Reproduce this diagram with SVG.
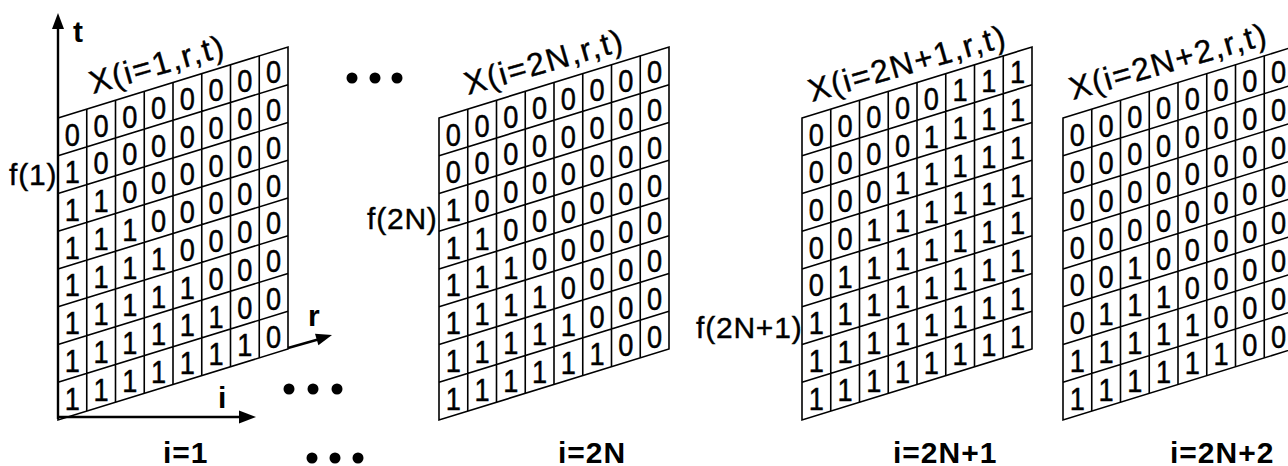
<svg xmlns="http://www.w3.org/2000/svg" xmlns:xlink="http://www.w3.org/1999/xlink" width="1288" height="466" viewBox="0 0 1288 466">
<style>
.gl{fill:none;stroke:#000;stroke-width:1.6;vector-effect:non-scaling-stroke}
.d{font-family:"Liberation Sans",Arial,sans-serif;font-size:32px;fill:#000;stroke:#000;stroke-width:0.5;text-anchor:middle}
.lab{font-family:"Liberation Sans",Arial,sans-serif;font-size:32px;fill:#000;stroke:#000;stroke-width:0.4;letter-spacing:1.8px}
.f{font-family:"Liberation Sans",Arial,sans-serif;font-size:30px;fill:#000;stroke:#000;stroke-width:0.4;letter-spacing:0.8px}
.b{font-family:"Liberation Sans",Arial,sans-serif;font-size:30px;font-weight:bold;fill:#000;letter-spacing:1px}
.ax{font-family:"Liberation Sans",Arial,sans-serif;font-size:30px;font-weight:bold;fill:#000}
.axis{stroke:#000;stroke-width:2.4;fill:none}
.ah{fill:#000;stroke:none}
</style>
<defs>
<g id="gridlines">
<rect class="gl" x="0" y="0" width="230" height="302"/>
<path class="gl" d="M28.75 0V302M57.5 0V302M86.25 0V302M115 0V302M143.75 0V302M172.5 0V302M201.25 0V302M0 37.75H230M0 75.5H230M0 113.25H230M0 151H230M0 188.75H230M0 226.5H230M0 264.25H230"/>
</g>
</defs>
<rect width="1288" height="466" fill="#fff"/>

<g id="grid1">
<use xlink:href="#gridlines" href="#gridlines" transform="translate(58,118) skewY(-17.16)"/>
<g transform="translate(58,118) scale(0.85,1)">
<text class="d" x="16.9 50.7 84.6 118.4 152.2 186 219.9 253.6" y="27.5" dy="0 -8.875 -8.875 -8.875 -8.875 -8.875 -8.875 -8.875">00000000</text>
<text class="d" x="16.9 50.7 84.6 118.4 152.2 186 219.9 253.6" y="65.25" dy="0 -8.875 -8.875 -8.875 -8.875 -8.875 -8.875 -8.875">10000000</text>
<text class="d" x="16.9 50.7 84.6 118.4 152.2 186 219.9 253.6" y="103" dy="0 -8.875 -8.875 -8.875 -8.875 -8.875 -8.875 -8.875">11000000</text>
<text class="d" x="16.9 50.7 84.6 118.4 152.2 186 219.9 253.6" y="140.75" dy="0 -8.875 -8.875 -8.875 -8.875 -8.875 -8.875 -8.875">11100000</text>
<text class="d" x="16.9 50.7 84.6 118.4 152.2 186 219.9 253.6" y="178.5" dy="0 -8.875 -8.875 -8.875 -8.875 -8.875 -8.875 -8.875">11110000</text>
<text class="d" x="16.9 50.7 84.6 118.4 152.2 186 219.9 253.6" y="216.25" dy="0 -8.875 -8.875 -8.875 -8.875 -8.875 -8.875 -8.875">11111000</text>
<text class="d" x="16.9 50.7 84.6 118.4 152.2 186 219.9 253.6" y="254" dy="0 -8.875 -8.875 -8.875 -8.875 -8.875 -8.875 -8.875">11111100</text>
<text class="d" x="16.9 50.7 84.6 118.4 152.2 186 219.9 253.6" y="291.75" dy="0 -8.875 -8.875 -8.875 -8.875 -8.875 -8.875 -8.875">11111110</text>
</g>
<text class="lab" x="93" y="94" transform="rotate(-16 93 94)">X(i=1,r,t)</text>
<text class="f" x="9" y="185">f(1)</text>
<text class="b" x="163" y="463">i=1</text>
</g>

<g id="grid2">
<use xlink:href="#gridlines" href="#gridlines" transform="translate(439,118) skewY(-17.16)"/>
<g transform="translate(439,118) scale(0.85,1)">
<text class="d" x="16.9 50.7 84.6 118.4 152.2 186 219.9 253.6" y="27.5" dy="0 -8.875 -8.875 -8.875 -8.875 -8.875 -8.875 -8.875">00000000</text>
<text class="d" x="16.9 50.7 84.6 118.4 152.2 186 219.9 253.6" y="65.25" dy="0 -8.875 -8.875 -8.875 -8.875 -8.875 -8.875 -8.875">00000000</text>
<text class="d" x="16.9 50.7 84.6 118.4 152.2 186 219.9 253.6" y="103" dy="0 -8.875 -8.875 -8.875 -8.875 -8.875 -8.875 -8.875">10000000</text>
<text class="d" x="16.9 50.7 84.6 118.4 152.2 186 219.9 253.6" y="140.75" dy="0 -8.875 -8.875 -8.875 -8.875 -8.875 -8.875 -8.875">11000000</text>
<text class="d" x="16.9 50.7 84.6 118.4 152.2 186 219.9 253.6" y="178.5" dy="0 -8.875 -8.875 -8.875 -8.875 -8.875 -8.875 -8.875">11100000</text>
<text class="d" x="16.9 50.7 84.6 118.4 152.2 186 219.9 253.6" y="216.25" dy="0 -8.875 -8.875 -8.875 -8.875 -8.875 -8.875 -8.875">11110000</text>
<text class="d" x="16.9 50.7 84.6 118.4 152.2 186 219.9 253.6" y="254" dy="0 -8.875 -8.875 -8.875 -8.875 -8.875 -8.875 -8.875">11111000</text>
<text class="d" x="16.9 50.7 84.6 118.4 152.2 186 219.9 253.6" y="291.75" dy="0 -8.875 -8.875 -8.875 -8.875 -8.875 -8.875 -8.875">11111100</text>
</g>
<text class="lab" x="468" y="95" transform="rotate(-16 468 95)">X(i=2N,r,t)</text>
<text class="f" x="367" y="229">f(2N)</text>
<text class="b" x="558" y="463">i=2N</text>
</g>

<g id="grid3">
<use xlink:href="#gridlines" href="#gridlines" transform="translate(802,118) skewY(-17.16)"/>
<g transform="translate(802,118) scale(0.85,1)">
<text class="d" x="16.9 50.7 84.6 118.4 152.2 186 219.9 253.6" y="27.5" dy="0 -8.875 -8.875 -8.875 -8.875 -8.875 -8.875 -8.875">00000111</text>
<text class="d" x="16.9 50.7 84.6 118.4 152.2 186 219.9 253.6" y="65.25" dy="0 -8.875 -8.875 -8.875 -8.875 -8.875 -8.875 -8.875">00001111</text>
<text class="d" x="16.9 50.7 84.6 118.4 152.2 186 219.9 253.6" y="103" dy="0 -8.875 -8.875 -8.875 -8.875 -8.875 -8.875 -8.875">00011111</text>
<text class="d" x="16.9 50.7 84.6 118.4 152.2 186 219.9 253.6" y="140.75" dy="0 -8.875 -8.875 -8.875 -8.875 -8.875 -8.875 -8.875">00111111</text>
<text class="d" x="16.9 50.7 84.6 118.4 152.2 186 219.9 253.6" y="178.5" dy="0 -8.875 -8.875 -8.875 -8.875 -8.875 -8.875 -8.875">01111111</text>
<text class="d" x="16.9 50.7 84.6 118.4 152.2 186 219.9 253.6" y="216.25" dy="0 -8.875 -8.875 -8.875 -8.875 -8.875 -8.875 -8.875">11111111</text>
<text class="d" x="16.9 50.7 84.6 118.4 152.2 186 219.9 253.6" y="254" dy="0 -8.875 -8.875 -8.875 -8.875 -8.875 -8.875 -8.875">11111111</text>
<text class="d" x="16.9 50.7 84.6 118.4 152.2 186 219.9 253.6" y="291.75" dy="0 -8.875 -8.875 -8.875 -8.875 -8.875 -8.875 -8.875">11111111</text>
</g>
<text class="lab" x="812" y="102" transform="rotate(-16 812 102)">X(i=2N+1,r,t)</text>
<text class="f" x="696" y="338">f(2N+1)</text>
<text class="b" x="893" y="463">i=2N+1</text>
</g>

<g id="grid4">
<use xlink:href="#gridlines" href="#gridlines" transform="translate(1063,118) skewY(-17.16)"/>
<g transform="translate(1063,118) scale(0.85,1)">
<text class="d" x="16.9 50.7 84.6 118.4 152.2 186 219.9 253.6" y="27.5" dy="0 -8.875 -8.875 -8.875 -8.875 -8.875 -8.875 -8.875">00000000</text>
<text class="d" x="16.9 50.7 84.6 118.4 152.2 186 219.9 253.6" y="65.25" dy="0 -8.875 -8.875 -8.875 -8.875 -8.875 -8.875 -8.875">00000000</text>
<text class="d" x="16.9 50.7 84.6 118.4 152.2 186 219.9 253.6" y="103" dy="0 -8.875 -8.875 -8.875 -8.875 -8.875 -8.875 -8.875">00000000</text>
<text class="d" x="16.9 50.7 84.6 118.4 152.2 186 219.9 253.6" y="140.75" dy="0 -8.875 -8.875 -8.875 -8.875 -8.875 -8.875 -8.875">00000000</text>
<text class="d" x="16.9 50.7 84.6 118.4 152.2 186 219.9 253.6" y="178.5" dy="0 -8.875 -8.875 -8.875 -8.875 -8.875 -8.875 -8.875">00100000</text>
<text class="d" x="16.9 50.7 84.6 118.4 152.2 186 219.9 253.6" y="216.25" dy="0 -8.875 -8.875 -8.875 -8.875 -8.875 -8.875 -8.875">01110000</text>
<text class="d" x="16.9 50.7 84.6 118.4 152.2 186 219.9 253.6" y="254" dy="0 -8.875 -8.875 -8.875 -8.875 -8.875 -8.875 -8.875">11111000</text>
<text class="d" x="16.9 50.7 84.6 118.4 152.2 186 219.9 253.6" y="291.75" dy="0 -8.875 -8.875 -8.875 -8.875 -8.875 -8.875 -8.875">11111100</text>
</g>
<text class="lab" x="1073" y="100" transform="rotate(-16 1073 100)">X(i=2N+2,r,t)</text>
<text class="b" x="1170" y="463">i=2N+2</text>
</g>

<g id="connectors">
<path class="axis" d="M58 419V26"/>
<polygon class="ah" points="58,13 52,29 64,29"/>
<path class="axis" d="M57 417H241"/>
<polygon class="ah" points="256,417 239,410.5 239,423.5"/>
<path class="axis" d="M288 348L318 339.5"/>
<polygon class="ah" points="332,335 318.4,345.3 315,333.8"/>
</g>

<g id="axis-labels">
<text class="ax" x="73" y="42">t</text>
<text class="ax" x="218" y="408">i</text>
<text class="ax" x="308" y="326">r</text>
</g>

<g id="ellipses">
<circle cx="352" cy="78" r="5.5"/><circle cx="375" cy="78" r="5.5"/><circle cx="397" cy="78" r="5.5"/>
<circle cx="289" cy="389" r="5.5"/><circle cx="313" cy="389" r="5.5"/><circle cx="337" cy="389" r="5.5"/>
<circle cx="312" cy="458" r="5.5"/><circle cx="335" cy="458" r="5.5"/><circle cx="358" cy="458" r="5.5"/>
</g>
</svg>
